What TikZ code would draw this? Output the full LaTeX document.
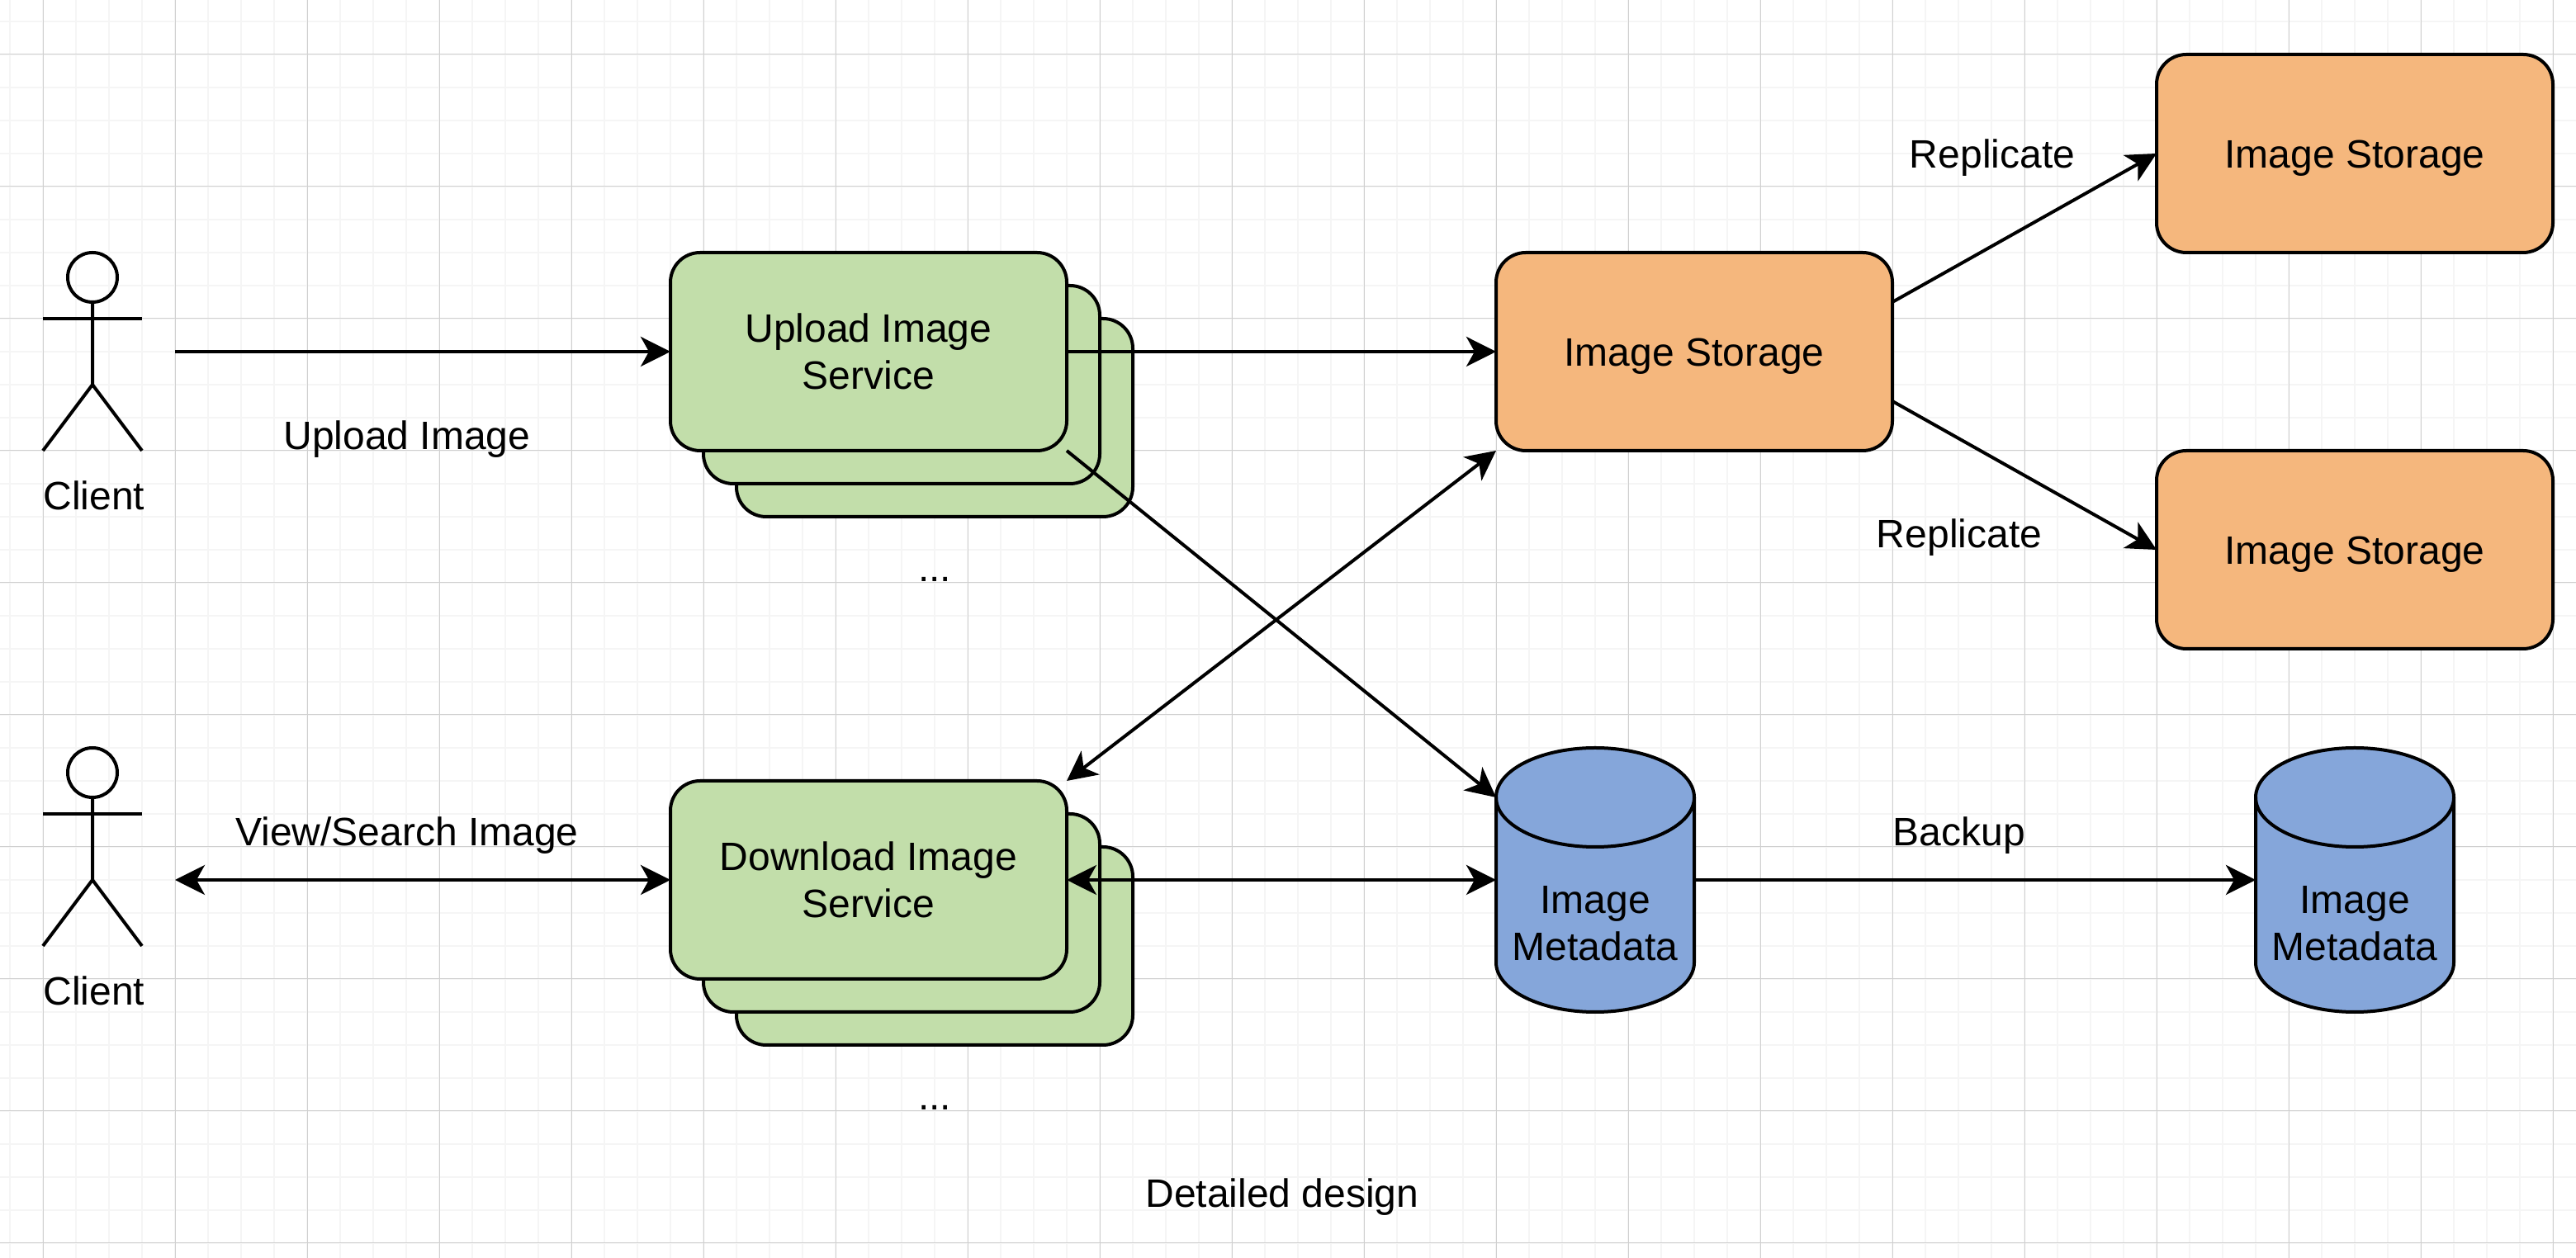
\documentclass[tikz,border=0pt]{standalone}
\usepackage{fontspec}
\setmainfont{Liberation Sans}
\usetikzlibrary{arrows.meta}

\definecolor{svcgreen}{RGB}{194,222,170}
\definecolor{storeorange}{RGB}{245,183,125}
\definecolor{metablue}{RGB}{133,166,218}
\definecolor{gridmajor}{RGB}{208,208,208}
\definecolor{gridminor}{RGB}{245,245,245}

\tikzset{
	every node/.style={font=\fontsize{13.66}{16.2}\selectfont},
	thick line/.style={line width=0.04cm},
	arr/.style={thick line,-{Stealth[length=0.36cm,width=0.36cm,inset=0.1cm]}},
	dblarr/.style={thick line,{Stealth[length=0.36cm,width=0.36cm,inset=0.1cm]}-{Stealth[length=0.36cm,width=0.36cm,inset=0.1cm]}},
	box/.style={draw,thick line,rectangle,rounded corners=0.36cm,outer sep=0pt,inner sep=0pt},
	svc/.style={box,fill=svcgreen,minimum width=4.8cm,minimum height=2.4cm,align=center},
	store/.style={box,fill=storeorange,minimum width=4.8cm,minimum height=2.4cm,text height=0.36cm,text depth=0pt},
	metabody/.style={rectangle,outer sep=0pt,inner sep=0pt,minimum width=2.4cm,minimum height=3.2cm},
	metatext/.style={inner sep=0pt,align=center},
	lbl/.style={anchor=base,inner sep=0pt},
}

%Database cylinder: name, centre x, centre y
\newcommand{\metacyl}[3]{
	\draw[thick line,fill=metablue] (#2-1.2,#3+1) arc[start angle=180,end angle=0,x radius=1.2,y radius=0.6]
		-- (#2+1.2,#3-1) arc[start angle=0,end angle=-180,x radius=1.2,y radius=0.6] -- cycle;
	\draw[thick line] (#2-1.2,#3+1) arc[start angle=180,end angle=360,x radius=1.2,y radius=0.6];
	\node[metabody] (#1) at (#2,#3) {};
	\node[metatext] (#1text) at (#2,#3-0.53) {Image\\Metadata};
}

\begin{document}
\begin{tikzpicture}
	\useasboundingbox (0,0) rectangle (31.2,15.24);
	\fill[white] (0,0) rectangle (31.2,15.24);

	%Background grid
	\foreach \x in {0.12,0.52,...,31.2} \draw[gridminor,line width=0.02cm] (\x,0) -- (\x,15.24);
	\foreach \y in {0.18,0.58,...,15.24} \draw[gridminor,line width=0.02cm] (0,\y) -- (31.2,\y);
	\foreach \x in {0.52,2.12,...,31.2} \draw[gridmajor,line width=0.01cm] (\x,0) -- (\x,15.24);
	\foreach \y in {0.18,1.78,...,15.24} \draw[gridmajor,line width=0.01cm] (0,\y) -- (31.2,\y);

	%Clients
	\foreach \name/\dy in {clienta/0,clientb/-6}{
		\begin{scope}[yshift=\dy cm,thick line]
			\draw (1.12,11.88) circle (0.3);
			\draw (1.12,11.58) -- (1.12,10.58) -- (0.52,9.78);
			\draw (1.12,10.58) -- (1.72,9.78);
			\draw (0.52,11.38) -- (1.72,11.38);
		\end{scope}
		\node[lbl] (\name) at (1.14,9.06+\dy) {Client};
	}
	\coordinate (clientaout) at (2.12,10.98);
	\coordinate (clientbout) at (2.12,4.58);

	%Upload stack
	\node[svc] (uploadc) at (11.32,10.18) {};
	\node[svc] (uploadb) at (10.92,10.58) {};
	\node[svc] (upload) at (10.52,10.98) {Upload Image\\Service};
	%Download stack
	\node[svc] (downloadc) at (11.32,3.78) {};
	\node[svc] (downloadb) at (10.92,4.18) {};
	\node[svc] (download) at (10.52,4.58) {Download Image\\Service};

	%Storage
	\node[store] (storage) at (20.52,10.98) {Image Storage};
	\node[store] (storagea) at (28.52,13.38) {Image Storage};
	\node[store] (storageb) at (28.52,8.58) {Image Storage};

	%Metadata
	\metacyl{metaa}{19.32}{4.58}
	\metacyl{metab}{28.52}{4.58}

	%Connectors
	\draw[arr] (clientaout) -- (upload.west);
	\draw[arr] (upload.east) -- (storage.west);
	\draw[arr] (upload.south east) -- ([yshift=1cm]metaa.west);
	\draw[dblarr] (download.north east) -- (storage.south west);
	\draw[dblarr] (clientbout) -- (download.west);
	\draw[dblarr] (download.east) -- (metaa.west);
	\draw[arr] (metaa.east) -- (metab.west);
	\draw[arr] ([yshift=0.6cm]storage.east) -- (storagea.west);
	\draw[arr] ([yshift=-0.6cm]storage.east) -- (storageb.west);

	%Labels
	\node[lbl] (lblupload) at (4.93,9.79) {Upload Image};
	\node[lbl] (lblview) at (4.93,4.99) {View/Search Image};
	\node[lbl] (lblrepa) at (24.13,13.2) {Replicate};
	\node[lbl] (lblrepb) at (23.73,8.60) {Replicate};
	\node[lbl] (lblbackup) at (23.73,4.99) {Backup};
	\node[lbl] (dotsa) at (11.32,8.19) {...};
	\node[lbl] (dotsb) at (11.32,1.79) {...};
	\node[lbl] (caption) at (15.53,0.61) {Detailed design};
\end{tikzpicture}
\end{document}
